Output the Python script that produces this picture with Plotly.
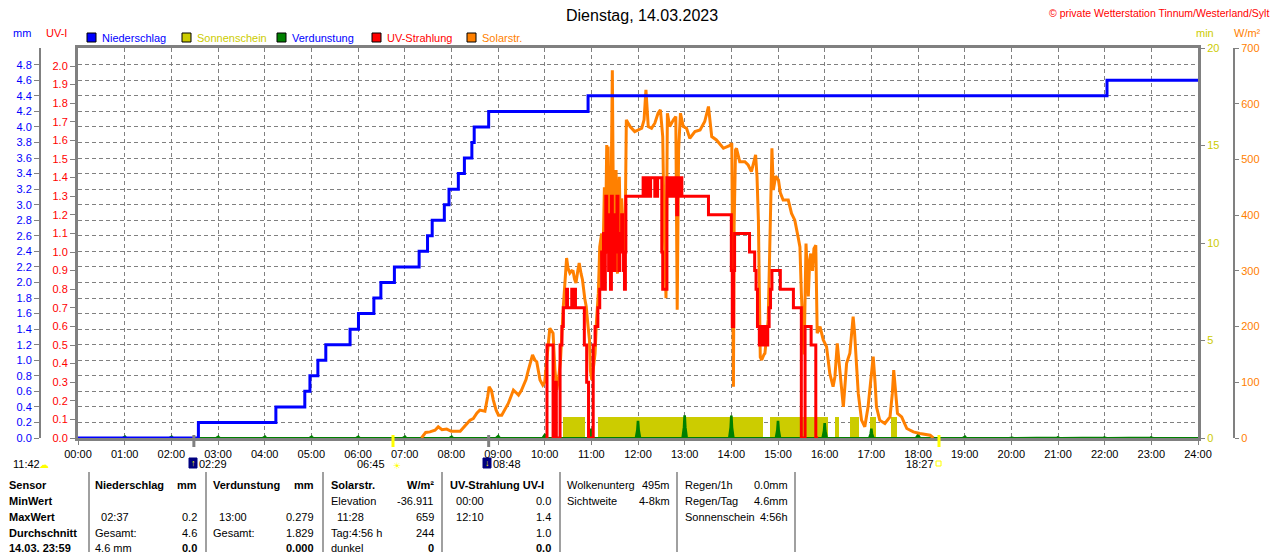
import plotly.graph_objects as go

# the page adds an 8px body margin, so the figure is 8px smaller and all
# reference pixel positions are shifted by that amount
OFF = 8
W, H = 1280 - OFF, 552 - OFF

# ---- data (hours as decimals) ----
rain_t = [0, 2.58, 4.24, 4.86, 4.97, 5.14, 5.31, 5.83, 6.01, 6.34, 6.49, 6.78, 7.31, 7.49,
          7.59, 7.85, 7.95, 8.15, 8.28, 8.44, 8.49, 8.80, 10.93, 22.05, 24]
rain_mm = [0, 0.2, 0.4, 0.6, 0.8, 1.0, 1.2, 1.4, 1.6, 1.8, 2.0, 2.2, 2.4, 2.6,
           2.8, 3.0, 3.2, 3.4, 3.6, 3.8, 4.0, 4.2, 4.4, 4.6, 4.6]

evap_hour = list(range(25))
evap_mm = [0.0, 0.02, 0.02, 0.02, 0.02, 0.02, 0.02, 0.02, 0.02, 0.03, 0.05, 0.11, 0.21,
           0.279, 0.275, 0.21, 0.18, 0.11, 0.05, 0.02, 0.01, 0.01, 0.01, 0.01, 0.0]

sun_start = [10.39, 11.15, 14.83, 16.22, 16.54, 16.97, 17.43]
sun_end = [10.86, 14.67, 16.08, 16.31, 16.74, 17.10, 17.54]
sun_level = 1.1

solar_t = [7.36, 7.45, 7.54, 7.65, 7.72, 7.80, 7.90, 8.00, 8.19, 8.25, 8.33, 8.40, 8.47, 8.55,
           8.61, 8.72, 8.78, 8.81, 8.86, 8.90, 8.96, 9.01, 9.08, 9.15, 9.22, 9.28, 9.33, 9.38,
           9.44, 9.50, 9.54, 9.60, 9.65, 9.70, 9.74, 9.79, 9.83, 9.90, 9.96, 10.00, 10.03, 10.08,
           10.11, 10.15, 10.18, 10.22, 10.26, 10.31, 10.34, 10.40, 10.44, 10.47, 10.50, 10.54,
           10.58, 10.61, 10.64, 10.67, 10.71, 10.74, 10.78, 10.81, 10.86, 10.89, 10.93, 10.96,
           10.98, 11.01, 11.05, 11.08, 11.11, 11.15, 11.18, 11.22, 11.24, 11.26, 11.28, 11.30,
           11.33, 11.35, 11.36, 11.38, 11.41, 11.43, 11.45, 11.47, 11.49, 11.51, 11.53, 11.55,
           11.56, 11.58, 11.60, 11.62, 11.63, 11.65, 11.68, 11.70, 11.72, 11.75, 11.83, 11.93,
           12.02, 12.08, 12.13, 12.17, 12.22, 12.29, 12.36, 12.43, 12.48, 12.53, 12.56, 12.60,
           12.63, 12.68, 12.76, 12.81, 12.84, 12.87, 12.91, 12.97, 13.04, 13.11, 13.22, 13.33,
           13.43, 13.51, 13.58, 13.68, 13.83, 13.97, 14.01, 14.03, 14.045, 14.06, 14.09, 14.11,
           14.18, 14.29, 14.36, 14.43, 14.48, 14.52, 14.55, 14.58, 14.62, 14.65, 14.70, 14.72,
           14.79, 14.83, 14.87, 14.90, 14.95, 15.01, 15.05, 15.11, 15.22, 15.29, 15.36, 15.43,
           15.47, 15.50, 15.53, 15.56, 15.60, 15.65, 15.68, 15.70, 15.74, 15.77, 15.81, 15.84,
           15.90, 15.97, 16.04, 16.08, 16.11, 16.18, 16.22, 16.27, 16.33, 16.40, 16.44, 16.47,
           16.54, 16.58, 16.61, 16.64, 16.67, 16.72, 16.79, 16.86, 16.93, 17.00, 17.04, 17.08,
           17.11, 17.18, 17.29, 17.40, 17.45, 17.48, 17.52, 17.56, 17.65, 17.76, 17.90, 18.04,
           18.26, 18.33]
solar_w = [0, 10, 11, 14, 20, 15, 16, 12, 12, 18, 26, 32, 35, 45,
           50, 48, 75, 92, 85, 68, 50, 41, 41, 52, 62, 75, 86, 82,
           77, 85, 92, 105, 122, 140, 149, 140, 137, 104, 95, 100, 128, 180,
           197, 192, 188, 122, 86, 116, 140, 236, 300, 323, 305, 296,
           300, 299, 285, 278, 300, 314, 295, 284, 250, 236, 200, 176,
           120, 104, 130, 152, 210, 260, 343, 367, 330, 367, 450, 330,
           526, 420, 523, 380, 319, 480, 660, 439, 360, 343, 481, 400,
           295, 420, 469, 380, 343, 430, 367, 400, 331, 571, 559, 550,
           553, 556, 571, 625, 559, 556, 565, 583, 589, 541, 379, 251,
           583, 559, 571, 577, 230, 517, 583, 559, 556, 538, 550, 553,
           568, 595, 541, 535, 520, 525, 529, 300, 92, 380, 517, 520,
           496, 496, 490, 478, 495, 508, 470, 391, 145, 140, 150, 152,
           212, 350, 520, 445, 470, 463, 440, 427, 427, 403, 391, 361,
           343, 260, 200, 150, 349, 254, 320, 331, 300, 340, 346, 188,
           200, 176, 164, 130, 116, 92, 110, 170, 116, 56, 100, 134,
           152, 190, 218, 190, 152, 80, 32, 20, 56, 116, 146, 100,
           56, 32, 26, 38, 80, 122, 80, 44, 38, 17, 11, 8,
           5, 0]

uv_t = [10.03, 10.05, 10.18, 10.22, 10.25, 10.33, 10.37, 10.40, 10.47, 10.49, 10.58, 10.60,
        10.63, 10.66, 10.85, 10.90, 10.94, 11.04, 11.08, 11.14, 11.18, 11.22, 11.24, 11.26,
        11.28, 11.30, 11.31, 11.33, 11.35, 11.37, 11.39, 11.41, 11.43, 11.45, 11.47, 11.49,
        11.51, 11.53, 11.55, 11.57, 11.59, 11.61, 11.63, 11.65, 11.67, 11.69, 11.71, 11.73,
        11.74, 12.11, 12.13, 12.15, 12.17, 12.19, 12.21, 12.23, 12.25, 12.27, 12.36, 12.42,
        12.51, 12.53, 12.62, 12.64, 12.66, 12.68, 12.70, 12.73, 12.75, 12.78, 12.80, 12.83,
        12.85, 12.87, 12.89, 12.91, 12.93, 12.94, 13.51, 14.00, 14.02, 14.05, 14.07, 14.39,
        14.50, 14.53, 14.56, 14.60, 14.63, 14.66, 14.70, 14.74, 14.78, 14.81, 14.84, 14.87,
        15.05, 15.33, 15.50, 15.58, 15.71, 15.81, 15.86]
uv_i = [0, 0.5, 0, 0.3, 0, 0.5, 0.6, 0.7, 0.8, 0.7, 0.8, 0.7,
        0.8, 0.7, 0.5, 0.3, 0, 0.5, 0.6, 0.7, 0.8, 1.0, 0.9, 1.1,
        0.8, 1.1, 1.3, 1.0, 1.2, 0.9, 1.1, 0.8, 1.3, 1.0, 1.2, 0.9,
        1.1, 1.0, 1.3, 1.0, 0.9, 1.1, 1.0, 1.2, 1.0, 0.9, 0.8, 1.0,
        1.3, 1.4, 1.3, 1.4, 1.3, 1.4, 1.3, 1.4, 1.3, 1.4, 1.3, 1.4,
        1.0, 0.8, 1.4, 1.3, 1.4, 1.3, 1.4, 1.3, 1.4, 1.3, 1.4, 1.2,
        1.4, 1.3, 1.4, 1.3, 1.4, 1.3, 1.2, 0.9, 0.6, 0.9, 1.1, 1.0,
        0.9, 0.8, 0.6, 0.5, 0.6, 0.5, 0.6, 0.5, 0.6, 0.7, 0.8, 0.9,
        0.8, 0.7, 0, 0.6, 0.5, 0, 0]

hour_labels = ["%02d:00" % h for h in range(25)]
mm_ticks = [round(i * 0.2, 1) for i in range(25)]

event_t = [2.483, 6.75, 8.8, 18.45]
event_col = ["#808080", "#ffff00", "#808080", "#ffff00"]

FONT = "Liberation Sans"
GREY = "#808080"
MM_RANGE = [0, 5.015]


def px(x):
    return (x - OFF) / W


def py(y):
    return 1 - (y - OFF) / H


annots = []
shapes = []


def txt(s, x, y, color="black", size=11, anchor="left", bold=False):
    if bold:
        s = "<b>" + s + "</b>"
    annots.append(dict(text=s, x=px(x), y=py(y), xref="paper", yref="paper",
                       xanchor=anchor, yanchor="middle", showarrow=False,
                       font=dict(family=FONT, size=size, color=color), borderpad=0))


def box(x0, y0, x1, y1, fill, line="black", lw=1):
    shapes.append(dict(type="rect", xref="paper", yref="paper", x0=px(x0), x1=px(x1),
                       y0=py(y1), y1=py(y0), fillcolor=fill, line=dict(color=line, width=lw)))


fig = go.Figure()

# drawing order follows the axes: y (sun) < y2 (evap) < y3 (solar) < y4 (uv) < y5 (rain)
fig.add_trace(go.Bar(x=[(s + e) / 2 for s, e in zip(sun_start, sun_end)],
                     width=[e - s for s, e in zip(sun_start, sun_end)],
                     y=[sun_level] * len(sun_start), yaxis="y",
                     marker=dict(color="#cccc00", line=dict(width=0))))

ex, ey = [], []
for h, v in zip(evap_hour, evap_mm):
    ex += [h - 0.05, h - 0.02, h - 0.008, h + 0.008, h + 0.02, h + 0.05]
    ey += [0, v * 0.5, v, v, v * 0.5, 0]
fig.add_trace(go.Scatter(x=ex, y=ey, yaxis="y2", mode="lines", fill="tozeroy",
                         fillcolor="#008000", line=dict(color="#008000", width=2)))

fig.add_trace(go.Scatter(x=solar_t, y=solar_w, yaxis="y3", mode="lines",
                         line=dict(color="#ff8000", width=3)))
fig.add_trace(go.Scatter(x=uv_t, y=uv_i, yaxis="y4", mode="lines",
                         line=dict(color="#ff0000", width=3, shape="hv")))
fig.add_trace(go.Scatter(x=rain_t, y=rain_mm, yaxis="y5", mode="lines",
                         line=dict(color="#0000ff", width=3, shape="hv")))

# markers on the time axis
for t, c in zip(event_t, event_col):
    shapes.append(dict(type="line", xref="x", yref="paper", x0=t, x1=t,
                       y0=py(447), y1=py(435), line=dict(color=c, width=3)))

# headings
txt("Dienstag, 14.03.2023", 642, 16, size=16, anchor="center")
txt("© private Wetterstation Tinnum/Westerland/Sylt", 1270, 13, color="#ff0000",
    size=10.5, anchor="right")
txt("mm", 22, 33, color="#0000ff", anchor="center")
txt("UV-I", 56, 33, color="#ff0000", anchor="center")
txt("min", 1205, 33, color="#cccc00", anchor="center")
txt("W/m²", 1247, 33, color="#ff8000", anchor="center")

# legend
legend = [("Niederschlag", "#0000ff", "#0000ff", 87),
          ("Sonnenschein", "#cccc00", "#cccc00", 182),
          ("Verdunstung", "#008000", "#0000ff", 277),
          ("UV-Strahlung", "#ff0000", "#ff0000", 372),
          ("Solarstr.", "#ff8000", "#ff8000", 467)]
for name, sq, tc, x in legend:
    box(x, 33, x + 9, 42, sq)
    txt(name, x + 14, 38, color=tc)

# row under the time axis
txt("11:42", 12, 464)
txt("☁", 44, 464, color="#ffff00", size=10, anchor="center")
box(189, 458, 197, 468, "#000080", line="#000080")
txt("↑", 193, 463, color="#ffff00", size=9, anchor="center", bold=True)
txt("02:29", 198, 464)
txt("06:45", 356, 464)
txt("☀", 392, 466, color="#ffff00", size=9, anchor="left")
box(483, 458, 491, 468, "#000080", line="#000080")
txt("↓", 487, 463, color="#ffff00", size=9, anchor="center", bold=True)
txt("08:48", 492, 464)
txt("18:27", 905, 464)
box(936, 461, 941, 466, "white", line="#ffff00")

# table
rows_y = [485, 501, 517, 533, 548]
for s, y in zip(["Sensor", "MinWert", "MaxWert", "Durchschnitt", "14.03. 23:59"], rows_y):
    txt(s, 8, y, bold=True)
table = [
    (94, 198, [("Niederschlag", "mm", True), ("", "", False), ("  02:37", "0.2", False),
               ("Gesamt:", "4.6", False), ("4.6 mm", "<b>0.0</b>", False)]),
    (212, 315, [("Verdunstung", "mm", True), ("", "", False), ("  13:00", "0.279", False),
                ("Gesamt:", "1.829", False), ("", "<b>0.000</b>", False)]),
    (330, 435, [("Solarstr.", "W/m²", True), ("Elevation", "-36.911", False),
                ("  11:28", "659", False), ("Tag:4:56 h", "244", False),
                ("dunkel", "<b>0</b>", False)]),
    (449, 552, [("UV-Strahlung UV-I", "", True), ("  00:00", "0.0", False),
                ("  12:10", "1.4", False), ("", "1.0", False), ("", "<b>0.0</b>", False)]),
    (566, 671, [("Wolkenunterg", "495m", False), ("Sichtweite", "4-8km", False)]),
    (684, 789, [("Regen/1h", "0.0mm", False), ("Regen/Tag", "4.6mm", False),
                ("Sonnenschein", "4:56h", False)]),
]
for xl, xr, cells in table:
    for (left, right, bold), y in zip(cells, rows_y):
        if left:
            txt(left.replace("  ", "&nbsp;&nbsp;"), xl, y, bold=bold)
        if right:
            txt(right, xr, y, anchor="right", bold=bold)
for x in [89, 206, 323, 442, 560, 677, 795]:
    shapes.append(dict(type="line", xref="paper", yref="paper", x0=px(x), x1=px(x),
                       y0=py(472), y1=py(560), line=dict(color=GREY, width=1.5)))

tick_font = dict(family=FONT, size=11)
common = dict(automargin=False, zeroline=False, tickcolor=GREY, ticks="outside",
              showline=True, linecolor=GREY, layer="below traces")
fig.update_layout(
    width=W, height=H, margin=dict(l=0, r=0, t=0, b=0, autoexpand=False),
    paper_bgcolor="white", plot_bgcolor="white", showlegend=False,
    barmode="overlay", bargap=0, hovermode=False,
    annotations=annots, shapes=shapes,
    xaxis=dict(common, domain=[px(78), px(1198)], range=[0, 24], tickmode="array",
               tickvals=list(range(25)), ticktext=hour_labels,
               tickfont=dict(tick_font, color="black"), ticklen=4,
               showgrid=True, gridcolor=GREY, griddash="4px,3px",
               gridwidth=1, linewidth=3, mirror=True),
    # sunshine minutes (right, yellow)
    yaxis=dict(common, domain=[py(438), py(48)], anchor="x", side="right",
               range=[0, 20], dtick=5, tickfont=dict(tick_font, color="#cccc00"),
               ticklen=4, linewidth=3, showgrid=False),
    # mm (far left, blue) carries the grid
    yaxis2=dict(common, overlaying="y", range=MM_RANGE, anchor="free",
                position=px(40), side="left", tickmode="array", tickvals=mm_ticks,
                tickformat=".1f", tickfont=dict(tick_font, color="#0000ff"),
                ticklen=5, linewidth=2, showgrid=True, gridcolor=GREY,
                griddash="4px,3px", gridwidth=1),
    # W/m2 (far right, orange)
    yaxis3=dict(common, overlaying="y", anchor="free", position=px(1234), side="right",
                range=[0, 700], dtick=100, tickfont=dict(tick_font, color="#ff8000"),
                ticklen=4, linewidth=2, showgrid=False),
    # UV index (left, red)
    yaxis4=dict(common, overlaying="y", anchor="x", side="left", range=[0, 2.097],
                dtick=0.1, tickformat=".1f", tickfont=dict(tick_font, color="#ff0000"),
                ticklen=5, linewidth=3, showgrid=False),
    # rain drawn on a hidden copy of the mm scale so it sits on top
    yaxis5=dict(overlaying="y", range=MM_RANGE, visible=False, automargin=False),
)

fig.write_html("out.html")
